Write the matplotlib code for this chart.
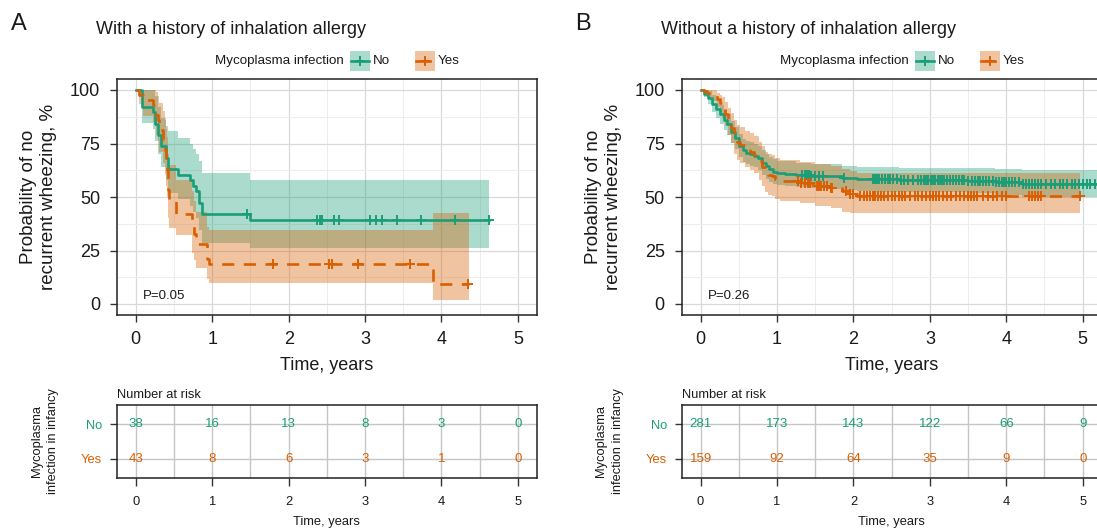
import matplotlib
matplotlib.use("Agg")
import matplotlib.pyplot as plt
import numpy as np
from matplotlib.patches import Rectangle
from matplotlib.lines import Line2D

plt.rcParams['font.family'] = ['Liberation Sans', 'DejaVu Sans']

GREEN = '#1B9E77'
ORANGE = '#D95F02'
TXT = '#1a1a1a'

# ---- panel A: with a history of inhalation allergy ----
a_no_t = [0, 0.075, 0.226, 0.25, 0.29, 0.336, 0.40, 0.42, 0.554, 0.71, 0.75, 0.79, 0.83, 0.86, 1.49]
a_no_p = [100, 92.1, 89.5, 84.2, 78.9, 73.7, 68.4, 63.2, 60.5, 57.9, 55.3, 52.6, 47.4, 42.1, 39.3]
a_no_hi = [100, 100, 100, 97, 92, 87, 83, 80.7, 77.6, 75, 72.5, 70, 66.6, 61.1, 58.1]
a_no_lo = [100, 84.6, 82, 76, 70, 64, 58, 52, 49, 46, 43, 40, 34.5, 28.4, 26.1]
a_no_end = 4.62
a_no_cens = [1.46, 2.37, 2.41, 2.44, 2.60, 2.66, 3.06, 3.14, 3.22, 3.42, 3.73, 4.18, 4.62]

a_yes_t = [0, 0.04, 0.10, 0.23, 0.26, 0.29, 0.31, 0.35, 0.38, 0.40, 0.41, 0.42, 0.43, 0.53,
           0.73, 0.76, 0.79, 0.93, 0.96, 3.89]
a_yes_p = [100, 97.7, 95.3, 93.0, 88.4, 86.0, 81.4, 76.7, 72.1, 67.4, 62.8, 53.5, 48.8, 41.9,
           37.2, 32.6, 27.9, 20.9, 18.6, 9.3]
a_yes_hi = [100, 100, 100, 100, 99, 97, 94, 90, 86, 82, 78, 70, 65, 58,
            53, 48, 43, 36, 34.6, 42.5]
a_yes_lo = [100, 93.5, 88, 85, 79, 76, 71, 66, 60.5, 55, 50, 40, 35.4, 32.3,
            24, 20.5, 17, 11.5, 9.7, 1.9]
a_yes_end = 4.36
a_yes_cens = [1.79, 2.53, 2.57, 2.91, 3.59, 4.35]

a_risk_no = [38, 16, 13, 8, 3, 0]
a_risk_yes = [43, 8, 6, 3, 1, 0]

# ---- panel B: without a history of inhalation allergy ----
b_no_t = [0, 0.05, 0.10, 0.15, 0.20, 0.25, 0.30, 0.35, 0.40, 0.45, 0.50, 0.55, 0.60, 0.65,
          0.70, 0.75, 0.80, 0.85, 0.90, 0.95, 1.00, 1.10, 1.25, 1.45, 1.65, 1.85, 2.05, 2.25,
          2.6, 3.0, 3.5, 3.85, 4.2]
b_no_p = [100, 98.2, 96.4, 93.6, 91.1, 88.6, 86.1, 84.0, 80.4, 77.5, 73.9, 71.8, 70.7, 70.0,
          69.3, 68.2, 66.1, 64.3, 62.9, 61.8, 61.1, 60.8, 60.4, 60.0, 59.6, 59.0, 58.6, 58.2,
          57.9, 57.9, 57.6, 56.8, 56.1]
b_no_hi = [100, 100, 99.5, 97.5, 95.5, 93.2, 91, 89, 85.5, 82.8, 79.3, 77.3, 76.2, 75.5,
           74.8, 73.8, 71.8, 70, 68.6, 67.6, 67, 66.6, 66.1, 65.6, 65.2, 64.6, 64.2, 63.9,
           63.6, 63.6, 63.4, 62.9, 62.7]
b_no_lo = [100, 96.5, 93.4, 89.8, 86.8, 84, 81.3, 79, 75.2, 72.2, 68.5, 66.3, 65.2, 64.5,
           63.8, 62.6, 60.4, 58.6, 57.2, 56.1, 55.4, 55.1, 54.7, 54.3, 53.9, 53.3, 52.9, 52.5,
           52.2, 52.2, 51.8, 50.8, 50.2]
b_no_end = 5.4
b_no_cens = [1.33, 1.36, 1.38, 1.40, 1.42, 1.45, 1.50, 1.55, 1.60, 1.87,
             2.25, 2.28, 2.31, 2.34, 2.37, 2.41, 2.45, 2.48, 2.52, 2.57, 2.62, 2.66, 2.72,
             2.78, 2.84, 2.88, 2.92, 2.95, 2.98, 3.01, 3.04, 3.07, 3.10, 3.13, 3.16, 3.19,
             3.22, 3.26, 3.30, 3.34, 3.38, 3.42, 3.45, 3.50, 3.55, 3.59, 3.63, 3.66, 3.70,
             3.74, 3.78, 3.82, 3.86, 3.90, 3.94, 3.97, 4.00, 4.04, 4.08, 4.12, 4.16, 4.22,
             4.26, 4.30, 4.34, 4.38, 4.42, 4.46, 4.52, 4.58, 4.64, 4.70, 4.74, 4.80, 4.86,
             4.90, 4.95, 5.00, 5.05, 5.10, 5.16, 5.22]

b_yes_t = [0, 0.04, 0.08, 0.15, 0.21, 0.25, 0.28, 0.32, 0.36, 0.40, 0.44, 0.48, 0.52, 0.58,
           0.64, 0.70, 0.76, 0.80, 0.84, 0.88, 0.93, 0.98, 1.04, 1.30, 1.50, 1.70, 1.85,
           1.95, 2.05]
b_yes_p = [100, 99.4, 98.7, 97.5, 95.6, 93.7, 91.8, 88.7, 85.5, 82.4, 78.0, 75.5, 74.2, 72.3,
           71.1, 69.8, 66.7, 64.2, 61.6, 60.4, 59.7, 58.5, 57.5, 56.5, 55.1, 54.4, 52.6,
           51.6, 50.6]
b_yes_hi = [100, 100, 100, 99.8, 98.8, 97.7, 96.5, 94.3, 91.8, 89.4, 85.8, 83.6, 82.5, 80.8,
            79.8, 78.6, 75.9, 73.6, 71.2, 70.1, 69.4, 68.3, 67.3, 66.5, 65.2, 64.6, 62.9,
            62, 61]
b_yes_lo = [100, 98.2, 96.5, 94.8, 92, 89.5, 87, 83, 79, 75.4, 70.3, 67.5, 66, 64,
            62.6, 61.1, 57.9, 55.1, 52.4, 51.1, 50.3, 49, 48, 47, 45.6, 44.9, 43.2,
            42.5, 42.5]
b_yes_end = 4.96
b_yes_cens = [1.28, 1.32, 1.36, 1.40, 1.43, 1.52, 1.55, 1.58, 1.62, 1.66, 1.70, 1.72,
              1.90, 1.95, 2.00, 2.08, 2.14, 2.18, 2.22, 2.25, 2.28, 2.32, 2.36, 2.40, 2.45,
              2.50, 2.55, 2.60, 2.64, 2.68, 2.74, 2.80, 2.85, 2.90, 2.95, 3.00, 3.04, 3.08,
              3.12, 3.17, 3.22, 3.28, 3.34, 3.40, 3.45, 3.50, 3.54, 3.58, 3.62, 3.70, 3.76,
              3.82, 3.88, 3.94, 4.00, 4.30, 4.34, 4.38, 4.42, 4.46, 4.96]

b_risk_no = [281, 173, 143, 122, 66, 9]
b_risk_yes = [159, 92, 64, 35, 9, 0]

W, H = 1097, 529
AX_W = 420.3


def fig_text(fig, x, y, s, **kw):
    fig.text(x / W, 1 - y / H, s, **kw)


def draw_curve(ax, t, p, lo, hi, end, cens, color, dashed):
    t_ext = list(t) + [end]
    p_ext = list(p) + [p[-1]]
    ax.fill_between(t_ext, list(lo) + [lo[-1]], list(hi) + [hi[-1]], step='post',
                    color=color, alpha=0.37, lw=0, zorder=2)
    ls = (0, (4.6, 3.6)) if dashed else '-'
    ax.step(t_ext, p_ext, where='post', color=color, lw=1.9, ls=ls, zorder=4)
    idx = np.searchsorted(t, cens, side='right') - 1
    ax.plot(cens, np.array(p)[idx], ls='none', marker='+', ms=7, mew=1.4,
            color=color, zorder=5)


def draw_panel(fig, left, letter, title, no, yes, pval, risk_no, risk_yes):
    ax = fig.add_axes([left / W, 1 - 314.7 / H, AX_W / W, 235.4 / H])
    for c in (no, yes):
        pass
    ax.fill_between([], [], [])
    draw_curve(ax, *no, GREEN, False)
    draw_curve(ax, *yes, ORANGE, True)
    # draw green line again under orange line order: bands first handled by zorder
    ax.set_xlim(-0.25, 5.25)
    ax.set_ylim(-5, 105)
    ax.set_xticks(range(6))
    ax.set_xticks(np.arange(0.5, 5, 1), minor=True)
    ax.set_yticks([0, 25, 50, 75, 100])
    ax.set_yticks([12.5, 37.5, 62.5, 87.5], minor=True)
    ax.grid(which='major', color='#D9D9D9', lw=0.9)
    ax.grid(which='minor', color='#EDEDED', lw=0.7)
    ax.set_axisbelow(True)
    ax.tick_params(which='major', length=5, width=1, pad=7, labelsize=13,
                   labelcolor=TXT, color='#333333')
    ax.tick_params(which='minor', length=0)
    for s in ax.spines.values():
        s.set_linewidth(1.1)
        s.set_color('#222222')
    ax.text(0.09, 3.7, pval, fontsize=9.5, va='center', color=TXT)

    fig_text(fig, left - 106, 24, letter, fontsize=17, va='center', color=TXT)
    fig_text(fig, left - 20.2, 29.5, title, fontsize=13, va='center', color=TXT)
    fig_text(fig, left - 78, 197, "Probability of no\nrecurrent wheezing, %", rotation=90,
             fontsize=13.5, ha='center', va='center', linespacing=1.25, color=TXT)
    fig_text(fig, left + AX_W / 2, 366, "Time, years", fontsize=13, ha='center',
             va='center', color=TXT)

    # legend
    fig_text(fig, left + 98.3, 61, "Mycoplasma infection", fontsize=9.6, va='center',
             color=TXT)
    for off, col, lab, x1 in ((233.3, GREEN, "No", 19), (298.3, ORANGE, "Yes", 15)):
        x0 = left + off
        fig.patches.append(Rectangle((x0 / W, 1 - 71 / H), 20 / W, 20 / H,
                                     transform=fig.transFigure, facecolor=col,
                                     alpha=0.37, lw=0))
        fig.add_artist(Line2D([(x0 + 1) / W, (x0 + x1) / W], [1 - 61 / H] * 2,
                              transform=fig.transFigure, color=col, lw=1.9))
        fig.add_artist(Line2D([(x0 + 10) / W], [1 - 61 / H], transform=fig.transFigure,
                              color=col, marker='+', ms=7, mew=1.4))
        fig_text(fig, x0 + 23, 61, lab, fontsize=9.6, va='center', color=TXT)

    # risk table
    rax = fig.add_axes([left / W, 1 - 478.3 / H, AX_W / W, 73.3 / H])
    rax.set_xlim(-0.25, 5.25)
    rax.set_ylim(0.44, 2.56)
    rax.set_xticks(range(6))
    rax.set_xticks(np.arange(0.5, 5, 1), minor=True)
    rax.set_yticks([2, 1])
    rax.set_yticklabels(["No", "Yes"])
    for lab, col in zip(rax.get_yticklabels(), (GREEN, ORANGE)):
        lab.set_color(col)
    rax.grid(which='both', axis='x', color='#C6C6C6', lw=1.0)
    rax.grid(which='major', axis='y', color='#C6C6C6', lw=1.0)
    rax.set_axisbelow(True)
    rax.tick_params(axis='x', which='major', length=5.5, width=1, pad=7.5,
                    labelsize=9.3, labelcolor=TXT, color='#333333')
    rax.tick_params(axis='y', which='major', length=5, width=1, pad=5.5,
                    labelsize=9.3, color='#333333')
    rax.tick_params(which='minor', length=0)
    for s in rax.spines.values():
        s.set_linewidth(1.1)
        s.set_color('#222222')
    for i in range(6):
        rax.text(i, 2, str(risk_no[i]), color=GREEN, ha='center', va='center', fontsize=9.5)
        rax.text(i, 1, str(risk_yes[i]), color=ORANGE, ha='center', va='center', fontsize=9.5)
    fig_text(fig, left + 0.5, 395, "Number at risk", fontsize=9.3, va='center', color=TXT)
    fig_text(fig, left + AX_W / 2, 522, "Time, years", fontsize=9.3, ha='center',
             va='center', color=TXT)
    fig_text(fig, left - 72, 441, "Mycoplasma\ninfection in infancy", rotation=90,
             fontsize=9.3, ha='center', va='center', linespacing=1.45, color=TXT)


def main():
    fig = plt.figure(figsize=(W / 100, H / 100), dpi=100)
    draw_panel(fig, 116.7, "A", "With a history of inhalation allergy",
               (a_no_t, a_no_p, a_no_lo, a_no_hi, a_no_end, a_no_cens),
               (a_yes_t, a_yes_p, a_yes_lo, a_yes_hi, a_yes_end, a_yes_cens),
               "P=0.05", a_risk_no, a_risk_yes)
    draw_panel(fig, 681.5, "B", "Without a history of inhalation allergy",
               (b_no_t, b_no_p, b_no_lo, b_no_hi, b_no_end, b_no_cens),
               (b_yes_t, b_yes_p, b_yes_lo, b_yes_hi, b_yes_end, b_yes_cens),
               "P=0.26", b_risk_no, b_risk_yes)
    fig.savefig("out.png", dpi=100)


if __name__ == "__main__":
    main()
